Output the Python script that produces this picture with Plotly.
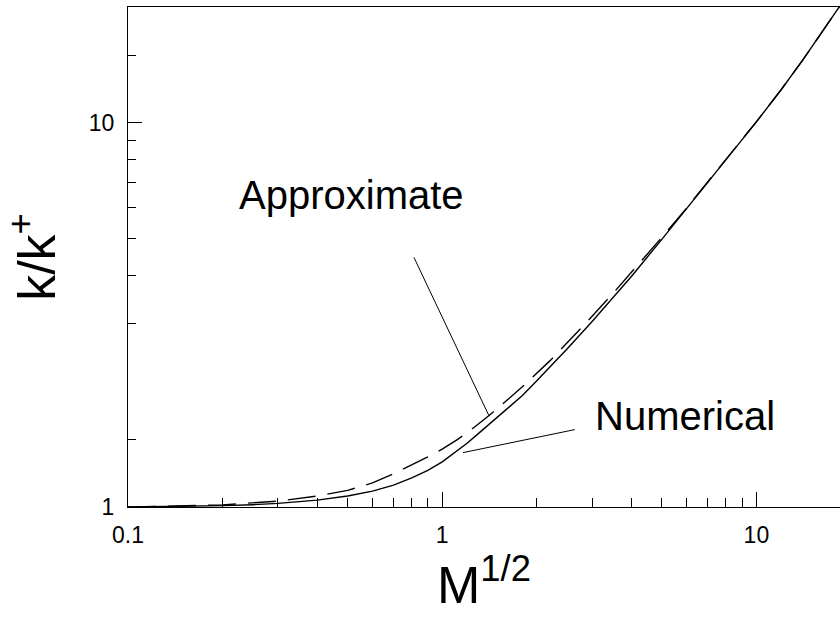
import math
import plotly.graph_objects as go

# Numerical solution (solid)
m_num = [0.1, 0.15, 0.2, 0.25, 0.3, 0.4, 0.5, 0.6, 0.7, 0.8, 0.9, 1.0, 1.1, 1.2, 1.3, 1.4, 1.6, 1.8, 2.0,
         2.5, 3.0, 3.5, 4.0, 5.0, 6.0, 7.0, 8.0, 10.0, 12.0, 14.0, 16.0, 18.5]
k_num = [1.0, 1.003, 1.008, 1.014, 1.022, 1.042, 1.068, 1.10, 1.14, 1.19, 1.245, 1.31, 1.385, 1.465, 1.55, 1.635,
         1.80, 1.95, 2.13, 2.58, 3.04, 3.50, 3.98, 4.97, 5.97, 6.98, 8.0, 10.05, 12.2, 14.5, 17.0, 20.2]

# Approximate solution (dashed)
m_apx = [0.1, 0.2, 0.3, 0.4, 0.5, 0.6, 0.7, 0.8, 0.9, 1.0, 1.12, 1.25, 1.41, 1.6, 1.83, 2.2, 2.8, 3.5,
         4.0, 5.0, 6.0, 7.0, 8.0, 10.0, 12.0, 14.0, 16.0, 18.5]
k_apx = [1.0, 1.013, 1.036, 1.068, 1.105, 1.155, 1.22, 1.285, 1.35, 1.415, 1.50, 1.60, 1.73, 1.89, 2.08, 2.40,
         2.95, 3.60, 4.07, 5.03, 6.0, 7.0, 8.02, 10.06, 12.2, 14.5, 17.0, 20.2]

# Label leader lines (data coordinates)
lead_apx_m = [0.813, 1.408]
lead_apx_k = [4.46, 1.729]
lead_num_m = [1.164, 2.643]
lead_num_k = [1.385, 1.590]

x_major = [0.1, 1, 10]
x_major_text = ["0.1", "1", "10"]
x_minor = [0.2, 0.3, 0.4, 0.5, 0.6, 0.7, 0.8, 0.9, 2, 3, 4, 5, 6, 7, 8, 9]
y_major = [1, 10]
y_major_text = ["1", "10"]
y_minor = [1.5, 3, 4, 5, 6, 7, 8, 9, 15]

FONT = "Arial, Liberation Sans, sans-serif"

fig = go.Figure()
fig.add_trace(go.Scatter(x=m_num, y=k_num, mode="lines", line=dict(color="black", width=1.4),
                         showlegend=False))
fig.add_trace(go.Scatter(x=m_apx, y=k_apx, mode="lines", line=dict(color="black", width=1.4, dash="28px,12px"),
                         showlegend=False))
fig.add_trace(go.Scatter(x=lead_apx_m, y=lead_apx_k, mode="lines", line=dict(color="black", width=1),
                         showlegend=False))
fig.add_trace(go.Scatter(x=lead_num_m, y=lead_num_k, mode="lines", line=dict(color="black", width=1),
                         showlegend=False))

fig.add_annotation(text="Approximate", xref="paper", yref="paper", x=0.3146, y=0.6242,
                   showarrow=False, font=dict(family=FONT, size=40, color="black"),
                   xanchor="center", yanchor="middle")
fig.add_annotation(text="Numerical", xref="paper", yref="paper", x=0.782, y=0.1825,
                   showarrow=False, font=dict(family=FONT, size=40, color="black"),
                   xanchor="center", yanchor="middle")

fig.update_layout(
    width=840, height=625,
    margin=dict(l=128, r=0, t=7, b=118),
    paper_bgcolor="white", plot_bgcolor="white",
    font=dict(family=FONT, color="black"),
    xaxis=dict(
        type="log", range=[-1, math.log10(18.45)], automargin=False,
        showline=True, linecolor="black", linewidth=1.3, mirror=True,
        showgrid=False, zeroline=False,
        ticks="inside", ticklen=15, tickwidth=1.3, tickcolor="black",
        tickmode="array", tickvals=x_major, ticktext=x_major_text,
        tickfont=dict(family=FONT, size=23, color="black"), ticklabelstandoff=7,
        minor=dict(tickmode="array", tickvals=x_minor, ticks="inside", ticklen=9,
                   tickwidth=1.3, tickcolor="black", showgrid=False),
        title=dict(text="M<sup>1/2</sup>", font=dict(family=FONT, size=52, color="black"), standoff=12),
    ),
    yaxis=dict(
        type="log", range=[0, math.log10(20)], automargin=False,
        showline=True, linecolor="black", linewidth=1.3, mirror=False,
        showgrid=False, zeroline=False,
        ticks="inside", ticklen=14, tickwidth=1.3, tickcolor="black",
        tickmode="array", tickvals=y_major, ticktext=y_major_text,
        tickfont=dict(family=FONT, size=23, color="black"), ticklabelstandoff=8,
        minor=dict(tickmode="array", tickvals=y_minor, ticks="inside", ticklen=8,
                   tickwidth=1.3, tickcolor="black", showgrid=False),
        title=dict(text="k/k<sup>+</sup>", font=dict(family=FONT, size=52, color="black"), standoff=18),
    ),
)

fig.write_html("out.html", config={"displayModeBar": False},
               post_script="document.body.style.margin='0';")
